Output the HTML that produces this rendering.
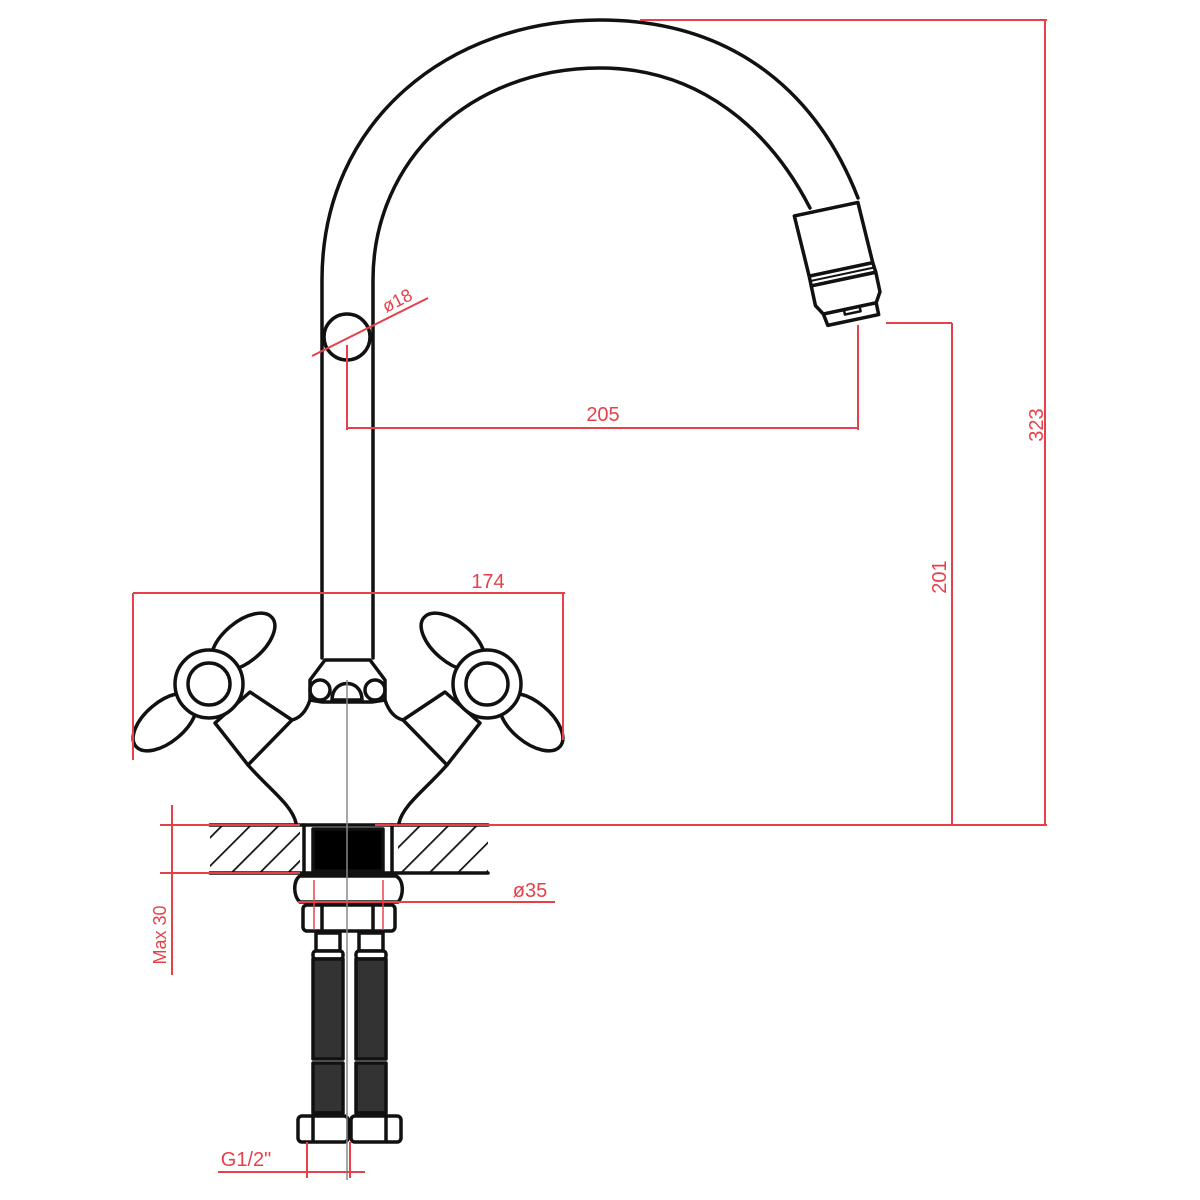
<!DOCTYPE html>
<html><head><meta charset="utf-8"><style>html,body{margin:0;padding:0;background:#fff}svg{display:block}</style></head>
<body>
<svg width="1200" height="1200" viewBox="0 0 1200 1200" xmlns="http://www.w3.org/2000/svg">
<defs>
<pattern id="h" width="20" height="20" patternUnits="userSpaceOnUse" patternTransform="rotate(45)">
<line x1="0" y1="0" x2="0" y2="20" stroke="#111" stroke-width="3.5"/>
</pattern>
</defs>
<g fill="none" stroke="#111" stroke-width="3.5" stroke-linejoin="round" stroke-linecap="round">
<path d="M322,658 L322,280 C322,120 450,20 600,20 C740,20 820,100 858,198"/>
<path d="M373,658 L373,280 C373,160 470,68 600,68 C700,68 770,130 810,208"/>
<circle cx="347" cy="337" r="23"/>
<g transform="translate(837,258) rotate(-12)">
<path d="M-33,-50 L32,-50 L34,12 L-31,12 Z" fill="#fff"/>
<path d="M-31,12 L34,12 L35,22 L-31,22 Z" fill="#fff"/>
<line x1="-31" y1="17" x2="35" y2="17" stroke-width="2"/>
<path d="M-31,22 L35,22 L35,42 L29,52 L-25,52 L-31,42 Z" fill="#fff"/>
<path d="M-25,52 L29,52 L29,64 L-23,64 Z" fill="#fff"/>
<path d="M-4,52 L-4,57 L12,57 L12,52" stroke-width="2.5"/>
</g>
<path d="M325,660 L370,660 L385,680 L385,700 L372,702 L322,702 L310,700 L310,680 Z" fill="#fff"/>
<circle cx="320" cy="690" r="10"/><circle cx="375" cy="690" r="10"/>
<path d="M332,700 C332,678 362,678 362,700 Z"/>
<path d="M310,700 C306,712 300,718 292,720"/>
<path d="M385,700 C389,712 395,718 403,720"/>
<path d="M248,765 C270,790 292,805 296,823"/>
<path d="M447,765 C425,790 403,805 399,823"/>
<path d="M215,723 L250,692 L292,720 L248,765 Z" fill="#fff"/>
<path d="M480,723 L445,692 L403,720 L447,765 Z" fill="#fff"/>
<g transform="translate(209,684)">
<ellipse cx="34" cy="-42" rx="20" ry="38" transform="rotate(50 34 -42)" fill="#fff"/>
<ellipse cx="-44" cy="38" rx="20" ry="38" transform="rotate(50 -44 38)" fill="#fff"/>
<circle r="34" fill="#fff"/>
<circle r="21"/>
</g>
<g transform="translate(487,684)">
<ellipse cx="-34" cy="-42" rx="20" ry="38" transform="rotate(-50 -34 -42)" fill="#fff"/>
<ellipse cx="44" cy="38" rx="20" ry="38" transform="rotate(-50 44 38)" fill="#fff"/>
<circle r="34" fill="#fff"/>
<circle r="21"/>
</g>
<rect x="210" y="825" width="90" height="48" fill="url(#h)" stroke="none"/>
<rect x="398" y="825" width="90" height="48" fill="url(#h)" stroke="none"/>
<line x1="210" y1="825" x2="488" y2="825"/>
<line x1="210" y1="873" x2="488" y2="873"/>
<line x1="304" y1="825" x2="304" y2="873"/>
<line x1="392" y1="825" x2="392" y2="873"/>
<rect x="313" y="829" width="70" height="42" fill="#000"/>
<path d="M300,876 L396,876 C404,880 404,896 398,902 L300,902 C293,896 293,880 300,876 Z" fill="#fff"/>
<rect x="303" y="905" width="92" height="26" rx="4" fill="#fff"/>
<line x1="322" y1="906" x2="322" y2="930"/><line x1="373" y1="906" x2="373" y2="930"/>
<g id="hose">
<rect x="316" y="933" width="24" height="18" fill="#fff"/>
<rect x="313" y="951" width="30" height="8" rx="3" fill="#fff"/>
<rect x="313" y="959" width="30" height="100" fill="#333"/>
<rect x="313" y="1063" width="30" height="50" fill="#333"/>
<rect x="313" y="1113" width="30" height="8" rx="3" fill="#fff"/>
<rect x="316" y="1121" width="24" height="18" fill="#fff"/>
</g>
<use href="#hose" transform="translate(43,0)"/>
<rect x="298" y="1116" width="50" height="26" rx="4" fill="#fff"/>
<rect x="351" y="1116" width="50" height="26" rx="4" fill="#fff"/>
<line x1="313" y1="1117" x2="313" y2="1141"/><line x1="386" y1="1117" x2="386" y2="1141"/>
</g>
<line x1="347" y1="680" x2="347" y2="1180" stroke="#888" stroke-width="1.5"/>
<g stroke="#e8404a" stroke-width="2" fill="none">
<line x1="640" y1="20" x2="1047" y2="20"/>
<line x1="1045" y1="20" x2="1045" y2="825"/>
<line x1="375" y1="825" x2="1047" y2="825"/>
<line x1="160" y1="825" x2="300" y2="825"/>
<line x1="160" y1="873" x2="300" y2="873"/>
<line x1="172" y1="805" x2="172" y2="975"/>
<line x1="886" y1="323" x2="952" y2="323"/>
<line x1="952" y1="323" x2="952" y2="825"/>
<line x1="347" y1="345" x2="347" y2="430"/>
<line x1="858" y1="325" x2="858" y2="430"/>
<line x1="347" y1="428" x2="858" y2="428"/>
<line x1="312" y1="356" x2="428" y2="298"/>
<line x1="133" y1="593" x2="565" y2="593"/>
<line x1="133" y1="593" x2="133" y2="760"/>
<line x1="563" y1="593" x2="563" y2="740"/>
<line x1="298" y1="902" x2="555" y2="902"/>
<line x1="218" y1="1172" x2="365" y2="1172"/>
<line x1="307" y1="1142" x2="307" y2="1178"/>
<line x1="350" y1="1142" x2="350" y2="1178"/>
<line x1="314" y1="880" x2="314" y2="930" stroke-width="1.5"/>
<line x1="383" y1="880" x2="383" y2="930" stroke-width="1.5"/>
</g>
<g fill="#e8404a" font-family="Liberation Sans, sans-serif" font-size="20">
<text x="603" y="421" text-anchor="middle">205</text>
<text x="488" y="588" text-anchor="middle">174</text>
<text x="530" y="897" text-anchor="middle">ø35</text>
<text x="246" y="1166" text-anchor="middle">G1/2"</text>
<text transform="translate(1043,425) rotate(-90)" text-anchor="middle">323</text>
<text transform="translate(946,577) rotate(-90)" text-anchor="middle">201</text>
<text transform="translate(166,935) rotate(-90)" text-anchor="middle" font-size="18">Max 30</text>
<text transform="translate(400,306) rotate(-27)" text-anchor="middle" font-size="18">ø18</text>
</g>
</svg>
</body></html>
